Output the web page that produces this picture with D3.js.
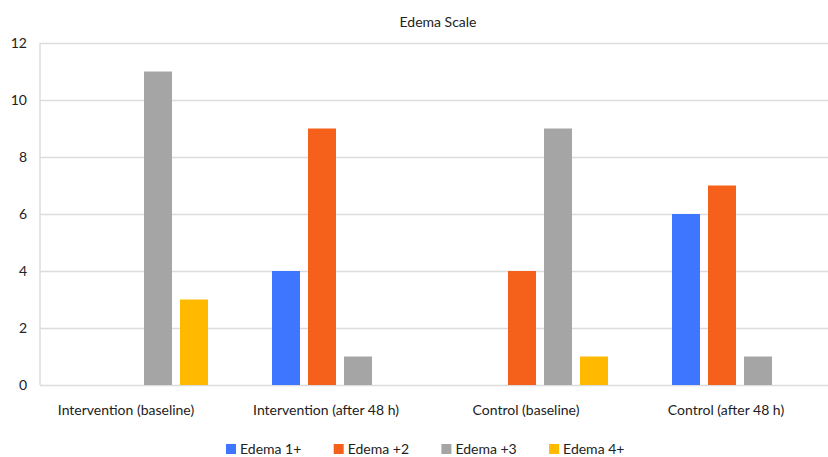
<!DOCTYPE html>
<html>
<head>
<meta charset="utf-8">
<script src="https://cdn.jsdelivr.net/npm/d3@7"></script>
<style>
  body { margin: 0; background: #fff; }
  text { font-family: Lato, "Open Sans", sans-serif; fill: #222; }
</style>
</head>
<body>
<svg id="chart" width="828" height="457"></svg>
<script>
// data
const categories = ["Intervention (baseline)", "Intervention (after 48 h)", "Control (baseline)", "Control (after 48 h)"];
const series = ["Edema 1+", "Edema +2", "Edema +3", "Edema 4+"];
const edema1 = [0, 4, 0, 6];
const edema2 = [0, 9, 4, 7];
const edema3 = [11, 1, 9, 1];
const edema4 = [3, 0, 1, 0];
const yTicks = [0, 2, 4, 6, 8, 10, 12];
const colors = ["#3f76ff", "#f5611a", "#a5a5a5", "#ffba00"];

const values = [edema1, edema2, edema3, edema4];
const rows = categories.map((c, i) => ({cat: c, vals: series.map((s, j) => ({s: s, v: values[j][i]}))}));

const svg = d3.select("#chart");
const mLeft = 40, mTop = 43, mBottom = 385;

const x0 = d3.scaleBand().domain(categories).range([mLeft, mLeft + 800]);
const x1 = d3.scaleBand().domain(series).range([0, x0.bandwidth()])
  .paddingInner(8 / 36).paddingOuter(32 / 36);
const y = d3.scaleLinear().domain([0, 12]).range([mBottom, mTop]);
const color = d3.scaleOrdinal().domain(series).range(colors);

// grid
svg.append("g")
  .attr("transform", `translate(${mLeft},0)`)
  .call(d3.axisLeft(y).tickValues(yTicks).tickSize(-800).tickFormat(""))
  .call(g => g.select(".domain").remove())
  .call(g => g.selectAll("line").attr("stroke", "#dcdcdc").attr("stroke-width", 1.5));

svg.append("line")
  .attr("x1", mLeft).attr("x2", mLeft).attr("y1", mTop).attr("y2", mBottom)
  .attr("stroke", "#dcdcdc").attr("stroke-width", 1.5);

// y labels
svg.append("g").selectAll("text").data(yTicks).enter().append("text")
  .attr("x", 27).attr("y", d => y(d)).attr("dy", "0.35em")
  .attr("text-anchor", "end").attr("font-size", 14)
  .text(d => d);

// bars
const grp = svg.append("g").selectAll("g").data(rows).enter().append("g")
  .attr("transform", d => `translate(${x0(d.cat)},0)`);
grp.selectAll("rect").data(d => d.vals.filter(e => e.v > 0)).enter().append("rect")
  .attr("x", d => x1(d.s))
  .attr("width", x1.bandwidth())
  .attr("y", d => y(d.v))
  .attr("height", d => y(0) - y(d.v))
  .attr("fill", d => color(d.s));

// category labels
svg.append("g").selectAll("text").data(categories).enter().append("text")
  .attr("x", d => x0(d) + x0.bandwidth() / 2 - 14)
  .attr("y", 415)
  .attr("text-anchor", "middle").attr("font-size", 14)
  .text(d => d);

// title
svg.append("text").attr("x", 438).attr("y", 27)
  .attr("text-anchor", "middle").attr("font-size", 14)
  .text("Edema Scale");

// legend
const leg = svg.append("g").selectAll("g").data(series).enter().append("g")
  .attr("transform", (d, i) => `translate(${226 + i * 107.7},444)`);
leg.append("rect").attr("width", 10).attr("height", 10).attr("fill", d => color(d));
leg.append("text").attr("x", 14).attr("y", 5).attr("dy", "0.35em")
  .attr("font-size", 14).text(d => d);
</script>
</body>
</html>
